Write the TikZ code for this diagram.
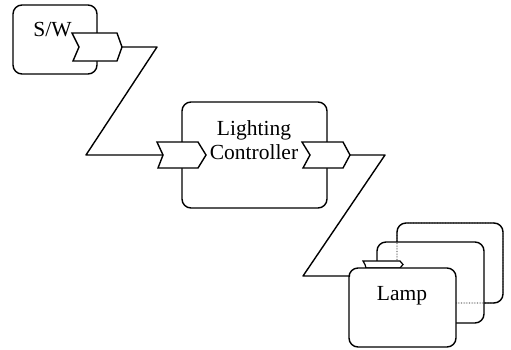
\documentclass[tikz,border=0pt]{standalone}
\usepackage{fontspec}
\setmainfont{Liberation Serif}
\begin{document}
\begin{tikzpicture}[x=1pt,y=-1pt,
  every path/.style={line width=1.4pt, line join=round},
  box/.style={draw, fill=white, rounded corners=9pt, line width=1.4pt, inner sep=0pt},
  portbox/.style={draw, fill=white, line width=1.4pt, line join=miter},
  wire/.style={draw, line width=1.4pt},
  lbl/.style={font=\fontsize{21.5}{24.5}\selectfont, inner sep=0pt, align=center},
  hid/.style={draw, line width=0.6pt, densely dotted, rounded corners=9pt}]
\useasboundingbox (0,0) rectangle (511,349);

% S/W
\node[box, minimum width=84pt, minimum height=69pt] (sw) at (55,39.5) {};
\node[lbl] (swtext) at (52.5,30) {S/W};
\draw[portbox] (72,33) -- (117,33) -- (122,47) -- (117,61) -- (73,61) -- (79,47) -- cycle;
\coordinate (swout) at (122,47);

% Lighting controller
\node[box, minimum width=145pt, minimum height=106pt] (ctrl) at (254.5,155) {};
\node[lbl] (ctrltext) at (254,140) {Lighting\\Controller};
\draw[portbox] (157,142) -- (198,142) -- (206,155) -- (198,168) -- (158,168) -- (163,155) -- cycle;
\draw[portbox] (302,142) -- (343,142) -- (350,155) -- (343,168) -- (303,168) -- (310,155) -- cycle;
\coordinate (ctrlin) at (163,155);
\coordinate (ctrlout) at (350,155);

% Lamps
\node[box, minimum width=106pt, minimum height=80pt] (lampc) at (450,263) {};
\node[box, minimum width=107pt, minimum height=81pt] (lampb) at (430.5,282.5) {};
\draw[hid] (397,223) rectangle (503,303);
\draw[portbox, line width=1.2pt] (363,261) -- (400,261) -- (403,264.5) -- (400,268) -- (366,268) -- (365,264.5) -- cycle;
\node[box, minimum width=107pt, minimum height=79pt] (lampa) at (402.5,307.5) {};
\node[lbl] (lamptext) at (402,296) {Lamp};
\coordinate (lampin) at (350,276);

% connectors
\coordinate (b1) at (157,47);
\coordinate (b2) at (86,155);
\coordinate (b3) at (385,155);
\coordinate (b4) at (303,276);
\draw[wire] (swout) -- (b1) -- (b2) -- (ctrlin);
\draw[wire] (ctrlout) -- (b3) -- (b4) -- (lampin);
\end{tikzpicture}
\end{document}
